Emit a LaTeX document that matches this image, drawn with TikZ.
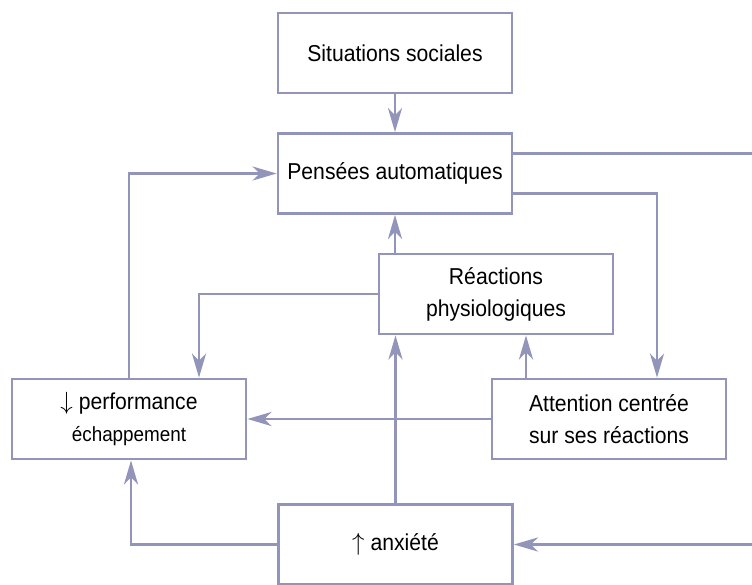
\documentclass[tikz,border=0pt]{standalone}
\usepackage{fontspec}
\setmainfont{Liberation Sans}[FakeStretch=0.92]
\usetikzlibrary{arrows.meta}
\definecolor{linkblue}{RGB}{146,149,185}

\begin{document}
\begin{tikzpicture}[x=1pt, y=-1pt,
    box/.style={draw=linkblue, line width=2.8pt, fill=white, align=center,
      minimum width=234pt, minimum height=80pt, inner sep=0pt,
      font=\fontsize{23pt}{32pt}\selectfont},
    link/.style={draw=linkblue, line width=2.8pt,
      -{Stealth[length=24pt, width=14pt, inset=7pt]}}]
  \useasboundingbox (0,0) rectangle (752,584);
  % the six boxes
  \node[box] (sit)  at (395,53)    {Situations sociales};
  \node[box] (pens) at (395,173.5) {Pensées automatiques};
  \node[box] (reac) at (496,294)   {Réactions\\physiologiques};
  \node[box] (perf) at (129,419)   {$\downarrow$ performance\\{\fontsize{20.5pt}{32pt}\selectfont échappement}};
  \node[box] (att)  at (609,419)   {Attention centrée\\sur ses réactions};
  \node[box] (anx)  at (395.5,544.5) {$\uparrow$ anxiété};
  % the loop on the right runs past the edge of the page
  \coordinate (loop) at (762,544.5);
  \draw[link] (sit) -- (pens);
  \draw[link] ([yshift=20pt]pens.east) -| (loop) |- (anx.east);
  \draw[link] ([yshift=-20pt]pens.east) -| ([xshift=48pt]att.north);
  \draw[link] (pens.south |- reac.north) -- (pens.south);
  \draw[link] (reac.west) -| ([xshift=70pt]perf.north);
  \draw[link] (perf.north) |- (pens.west);
  \draw[link] ([xshift=-83pt]att.north) -- ([xshift=-83pt]att.north |- reac.south);
  \draw[link] (att.west) -- (perf.east);
  \draw[link] (anx.north) -- (anx.north |- reac.south);
  \draw[link] (anx.west) -| ([xshift=2pt]perf.south);
\end{tikzpicture}
\end{document}
